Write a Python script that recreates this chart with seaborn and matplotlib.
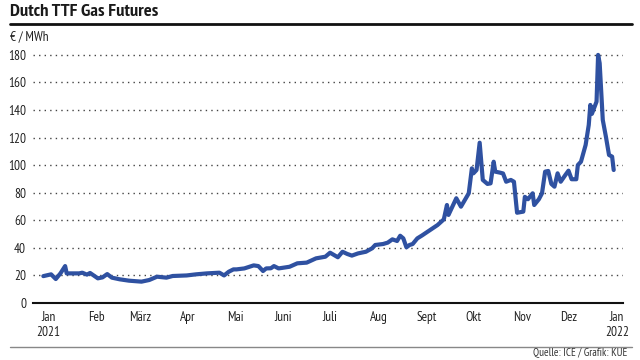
import matplotlib
matplotlib.use("Agg")
from matplotlib import font_manager as fm
import matplotlib.pyplot as plt
import seaborn as sns
import pandas as pd

dates = [
    "2020-12-29", "2021-01-03", "2021-01-06", "2021-01-09", "2021-01-12", "2021-01-13",
    "2021-01-21", "2021-01-23", "2021-01-26", "2021-01-28", "2021-02-02", "2021-02-05",
    "2021-02-08", "2021-02-11", "2021-02-16", "2021-02-22", "2021-03-02", "2021-03-07",
    "2021-03-12", "2021-03-18", "2021-03-22", "2021-03-31", "2021-04-06", "2021-04-13",
    "2021-04-21", "2021-04-24", "2021-04-27", "2021-04-30", "2021-05-02", "2021-05-07",
    "2021-05-13", "2021-05-16", "2021-05-19", "2021-05-21", "2021-05-24", "2021-05-26",
    "2021-05-29", "2021-06-05", "2021-06-10", "2021-06-16", "2021-06-22", "2021-06-28",
    "2021-07-01", "2021-07-06", "2021-07-09", "2021-07-12", "2021-07-15", "2021-07-19",
    "2021-07-24", "2021-07-28", "2021-07-30", "2021-08-04", "2021-08-07", "2021-08-10",
    "2021-08-13", "2021-08-15", "2021-08-17", "2021-08-19", "2021-08-21", "2021-08-23",
    "2021-08-26", "2021-08-29", "2021-09-03", "2021-09-08", "2021-09-12", "2021-09-14",
    "2021-09-15", "2021-09-20", "2021-09-23", "2021-09-28", "2021-09-30", "2021-10-01",
    "2021-10-03", "2021-10-05", "2021-10-07", "2021-10-10", "2021-10-12", "2021-10-14",
    "2021-10-15", "2021-10-18", "2021-10-20", "2021-10-22", "2021-10-25", "2021-10-27",
    "2021-10-29", "2021-11-02", "2021-11-03", "2021-11-05", "2021-11-08", "2021-11-09",
    "2021-11-12", "2021-11-14", "2021-11-16", "2021-11-18", "2021-11-20", "2021-11-22",
    "2021-11-24", "2021-11-26", "2021-11-29", "2021-12-01", "2021-12-03", "2021-12-06",
    "2021-12-07", "2021-12-09", "2021-12-12", "2021-12-14", "2021-12-15", "2021-12-16",
    "2021-12-19", "2021-12-20", "2021-12-21", "2021-12-23", "2021-12-25", "2021-12-27",
    "2021-12-29", "2021-12-30",
]
prices = [
    19.5, 20.8, 17.4, 21.5, 26.8, 21.5,
    21.5, 22.0, 20.6, 21.8, 17.9, 18.6,
    21.0, 18.4, 17.2, 16.2, 15.5, 16.7,
    19.1, 18.4, 19.6, 20.0, 20.8, 21.5,
    22.0, 20.0, 22.7, 24.4, 24.4, 25.1,
    27.3, 26.8, 23.2, 25.1, 25.2, 26.8,
    25.1, 26.3, 28.8, 29.3, 32.4, 33.6,
    36.5, 33.2, 37.2, 35.6, 34.4, 36.0,
    37.2, 39.7, 42.1, 42.8, 43.8, 46.2,
    45.0, 48.8, 46.9, 40.4, 42.1, 42.8,
    46.9, 49.0, 52.8, 56.6, 60.7, 71.1,
    63.9, 76.0, 69.9, 79.6, 97.7, 94.1,
    96.5, 116.3, 89.3, 86.4, 86.8, 102.5,
    95.3, 94.6, 94.0, 88.0, 89.3, 88.0,
    65.5, 66.3, 77.0, 75.3, 79.6, 71.1,
    75.3, 79.6, 95.3, 95.8, 86.4, 84.4,
    94.1, 88.0, 92.9, 96.0, 89.8, 89.8,
    100.1, 102.5, 114.7, 129.2, 143.7, 137.2,
    146.1, 180.0, 174.0, 132.8, 120.7, 107.4,
    106.2, 96.5,
]
month_ticks = ["2021-01-01", "2021-02-01", "2021-03-01", "2021-04-01", "2021-05-01",
               "2021-06-01", "2021-07-01", "2021-08-01", "2021-09-01", "2021-10-01",
               "2021-11-01", "2021-12-01", "2022-01-01"]
month_labels = ["Jan\n2021", "Feb", "März", "Apr", "Mai", "Juni", "Juli", "Aug",
                "Sept", "Okt", "Nov", "Dez", "Jan\n2022"]
y_ticks = [0, 20, 40, 60, 80, 100, 120, 140, 160, 180]

df = pd.DataFrame({"date": pd.to_datetime(dates), "price": prices})

available = {f.name for f in fm.fontManager.ttflist}
preferred = ["PT Sans Narrow", "Fira Sans Condensed", "Roboto Condensed",
             "Open Sans Condensed", "Liberation Sans Narrow", "Archivo Narrow",
             "Asap Condensed", "Encode Sans Condensed", "Barlow Semi Condensed"]
chosen = next((n for n in preferred if n in available), "DejaVu Sans")

sns.set_theme(style="white")
FONT = [chosen, "DejaVu Sans"]
plt.rcParams["font.family"] = FONT

fig = plt.figure(figsize=(6.4, 3.6), dpi=100)
ax = fig.add_axes([0.0516, 0.1583, 0.9219, 0.7083])

sns.lineplot(data=df, x="date", y="price", ax=ax, color="#2f51a1", linewidth=3.0,
             solid_joinstyle="round", solid_capstyle="round")

ax.set_ylim(0, 185)
ax.set_xlim(pd.Timestamp("2021-01-01") - pd.Timedelta(days=9.6),
            pd.Timestamp("2021-01-01") + pd.Timedelta(days=369))
ax.set_yticks(y_ticks)
ax.set_yticklabels([str(v) for v in y_ticks])
ax.set_xticks(pd.to_datetime(month_ticks))
ax.set_xticklabels(month_labels)
ax.set_xlabel("")
ax.set_ylabel("")

for yv in y_ticks[1:]:
    ax.axhline(yv, color="#444444", linewidth=1.0, linestyle=(0, (1, 3)), zorder=0)

for s in ["top", "right", "left"]:
    ax.spines[s].set_visible(False)
ax.spines["bottom"].set_color("#111111")
ax.spines["bottom"].set_linewidth(1.5)
ax.tick_params(axis="both", length=0, labelsize=9.5, colors="#222222")
ax.tick_params(axis="y", pad=5)
ax.tick_params(axis="x", pad=6)

fig.text(10 / 640, 1 - 12 / 360, "Dutch TTF Gas Futures", fontsize=13.3, fontweight="bold",
         ha="left", va="center", color="#1a1a1a", family=FONT)
fig.add_artist(plt.Line2D([10 / 640, 632 / 640], [1 - 24 / 360, 1 - 24 / 360],
                          color="#111111", linewidth=2.0))
fig.text(10 / 640, 1 - 37 / 360, "€ / MWh", fontsize=9.5, ha="left", va="center",
         color="#222222", family=FONT)
fig.add_artist(plt.Line2D([10 / 640, 632 / 640], [1 - 347 / 360, 1 - 347 / 360],
                          color="#888888", linewidth=1.0))
fig.text(627 / 640, 1 - 352.5 / 360, "Quelle: ICE / Grafik: KUE", fontsize=8,
         ha="right", va="center", color="#333333", family=FONT)

fig.savefig("out.png", dpi=100)
